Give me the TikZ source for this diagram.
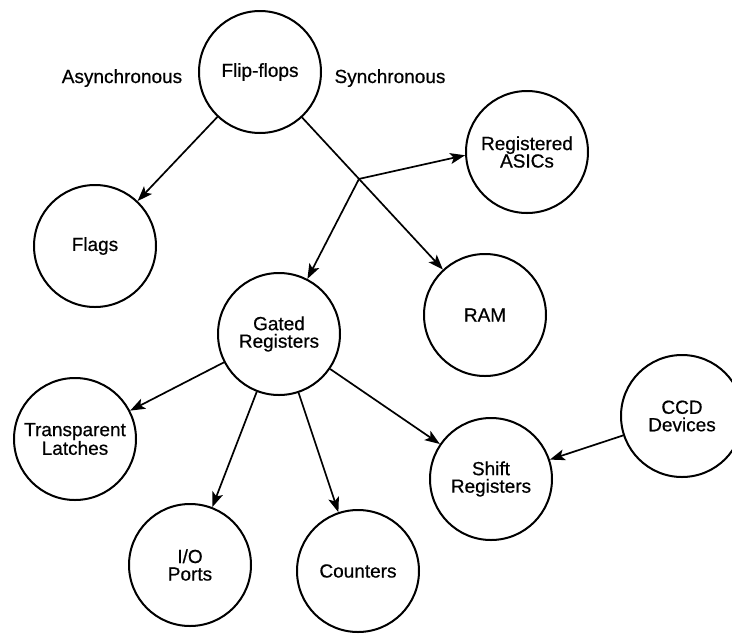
\documentclass[tikz,border=0pt]{standalone}
\usepackage{fontspec}
\setmainfont[FakeBold=0.6]{Liberation Sans}
\usetikzlibrary{arrows.meta,calc}
\begin{document}
\begin{tikzpicture}[x=1pt,y=-1pt,
  every node/.style={font=\fontsize{19}{17.5}\selectfont},
  bubble/.style={draw,circle,line width=2pt,minimum size=122pt,inner sep=0pt,align=center},
  lbl/.style={anchor=base,inner sep=0pt},
  arr/.style={line width=1.7pt,-{Stealth[length=15pt,width=11pt,inset=3.5pt]}}]
\useasboundingbox (0,0) rectangle (732,633);
\node[bubble] (ff) at (260,72) {Flip-flops};
\node[bubble] (flags) at (95,246) {Flags};
\node[bubble] (asics) at (527,152) {Registered\\ASICs};
\node[bubble] (ram) at (485,315) {RAM};
\node[bubble] (gr) at (279,334) {Gated\\Registers};
\node[bubble] (tl) at (75,439) {Transparent\\Latches};
\node[bubble] (ccd) at (682,416) {CCD\\Devices};
\node[bubble] (sr) at (491,479) {Shift\\Registers};
\node[bubble] (io) at (190,565) {I/O\\Ports};
\node[bubble] (cnt) at (358,571) {Counters};
\node[lbl] (async) at (122,83) {Asynchronous};
\node[lbl] (sync) at (390,83) {Synchronous};
\coordinate (j) at ($(ff.center)!0.44!(ram.center)$);
\draw[arr] (ff) -- (flags);
\draw[arr] (ff) -- (ram);
\draw[arr] (j) -- (asics.183);
\draw[arr] (j) -- (gr);
\draw[arr] (gr) -- (tl);
\draw[arr] (gr) -- (io);
\draw[arr] (gr) -- (cnt);
\draw[arr] (gr) -- (sr);
\draw[arr] (ccd) -- (sr);
\end{tikzpicture}
\end{document}
